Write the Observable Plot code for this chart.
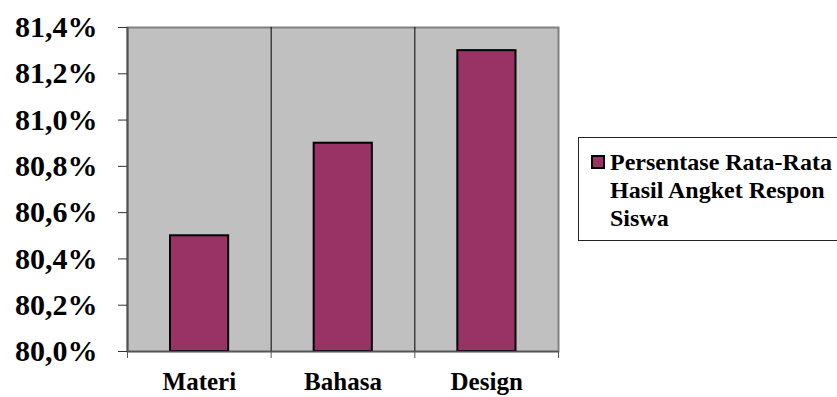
<!DOCTYPE html>
<html>
<head>
<meta charset="utf-8">
<script src="https://cdn.jsdelivr.net/npm/d3@7"></script>
<script src="https://cdn.jsdelivr.net/npm/@observablehq/plot@0.6"></script>
<style>
  html, body { margin: 0; padding: 0; background: #fff; overflow: hidden; }
  #wrap { position: relative; width: 837px; height: 397px; }
  #legend {
    position: absolute; left: 578px; top: 137px; width: 290px; height: 104px;
    border: 1px solid #222; box-sizing: border-box; background: #fff;
    font-family: "Liberation Serif", "Times New Roman", serif; font-weight: bold;
    font-size: 24px; line-height: 28px; color: #000;
  }
  #legend .sw {
    position: absolute; left: 12px; top: 17px; width: 10px; height: 10px;
    background: #993366; border: 2px solid #000;
  }
  #legend .tx { position: absolute; left: 31px; top: 10px; width: 236px; }
</style>
</head>
<body>
<div id="wrap"></div>
<script>
const categories = ["Materi", "Bahasa", "Design"];
const values = [0.805, 0.809, 0.813];
const seriesName = "Persentase Rata-Rata Hasil Angket Respon Siswa";
const yTicks = [0.800, 0.802, 0.804, 0.806, 0.808, 0.810, 0.812, 0.814];

const data = categories.map((c, i) => ({category: c, i, value: values[i]}));
const fmt = d => (d * 100).toFixed(1).replace(".", ",") + "%";
const font = `"Liberation Serif", "Times New Roman", serif`;

const chart = Plot.plot({
  width: 837,
  height: 397,
  marginLeft: 127,
  marginRight: 279,
  marginTop: 27,
  marginBottom: 46,
  style: {fontFamily: font, fontWeight: "bold", color: "#000", background: "#fff"},
  x: {type: "linear", domain: [0, categories.length], axis: null},
  y: {domain: [0.800, 0.814], axis: null},
  marks: [
    Plot.frame({fill: "#c0c0c0", stroke: "#808080", strokeWidth: 2}),
    Plot.ruleX(d3.range(1, categories.length), {stroke: "#000", strokeWidth: 1}),
    Plot.rectY(data, {
      x1: "i", x2: d => d.i + 1, y1: () => 0.800, y2: "value",
      insetLeft: 43, insetRight: 42.5,
      fill: "#993366", stroke: "#000", strokeWidth: 2
    }),
    Plot.ruleX([0], {stroke: "#555", strokeWidth: 2}),
    Plot.ruleY([0.800], {stroke: "#555", strokeWidth: 1.5}),
    Plot.axisY({
      ticks: yTicks, tickFormat: fmt, tickSize: 9, tickPadding: 21,
      fontSize: 30, fontWeight: "bold", label: null, stroke: "#333"
    }),
    Plot.axisX({
      ticks: d3.range(0, categories.length + 1), tickFormat: () => "",
      tickSize: 7, label: null, stroke: "#555"
    }),
    Plot.axisX({
      ticks: categories.map((c, i) => i + 0.5), tickFormat: d => categories[Math.floor(d)],
      tickSize: 0, tickPadding: 21, fontSize: 25, fontWeight: "bold", label: null
    })
  ]
});

const wrap = document.getElementById("wrap");
wrap.appendChild(chart);

const legend = document.createElement("div");
legend.id = "legend";
const sw = document.createElement("div");
sw.className = "sw";
const tx = document.createElement("div");
tx.className = "tx";
tx.textContent = seriesName;
legend.appendChild(sw);
legend.appendChild(tx);
wrap.appendChild(legend);
</script>
</body>
</html>
